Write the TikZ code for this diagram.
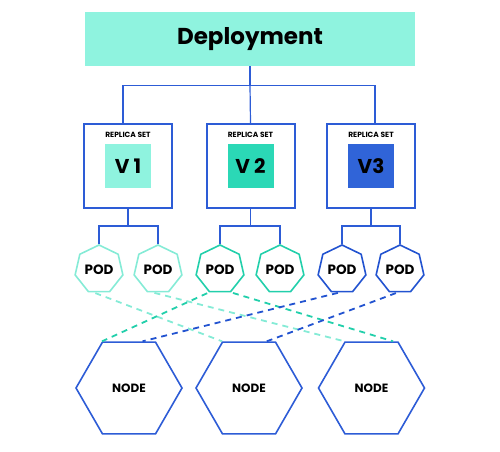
\documentclass[tikz,border=0pt]{standalone}
\usepackage{fontspec}
\setmainfont{Poppins}
\usepackage{xcolor}
\usetikzlibrary{shapes.geometric,calc}

\definecolor{mintlight}{HTML}{8FF3DF}
\definecolor{mintpod}{HTML}{85EBD6}
\definecolor{mintmid}{HTML}{2BD8B6}
\definecolor{mintpodmid}{HTML}{22CFAB}
\definecolor{vblue}{HTML}{3064D8}
\definecolor{lineblue}{HTML}{2D5CD6}
\definecolor{podblue}{HTML}{2253D0}

\begin{document}
\begin{tikzpicture}[x=1pt,y=-1pt,
    tree/.style={draw=lineblue, line width=1.2pt},
    rsbox/.style={draw=lineblue, line width=2pt, minimum width=88pt, minimum height=84pt, inner sep=0pt},
    rslabel/.style={font=\bfseries\fontsize{7.5}{8}\selectfont, inner sep=0pt},
    ver/.style={minimum width=46pt, minimum height=44pt, inner sep=0pt, font=\bfseries\fontsize{20}{22}\selectfont},
    pod/.style={regular polygon, regular polygon sides=7, minimum size=49pt, inner sep=0pt, line width=1.6pt, font=\bfseries\fontsize{13.5}{14}\selectfont},
    knode/.style={draw=lineblue, regular polygon, regular polygon sides=6, minimum size=106pt, inner sep=0pt, line width=1.6pt, font=\bfseries\fontsize{12}{13}\selectfont},
    link/.style={line width=1.8pt, dash pattern=on 6pt off 5pt, shorten <=2pt}]
    \useasboundingbox (0,0) rectangle (500,451);

    \node[fill=mintlight, minimum width=330pt, minimum height=54pt, inner sep=0pt, font=\bfseries\fontsize{23}{26}\selectfont] (dep) at (250,39) {Deployment};

    \node[rsbox] (rs1) at (128,166) {};
    \node[rsbox] (rs2) at (250.5,166) {};
    \node[rsbox] (rs3) at (371,166) {};
    \node[rslabel] at (128,135) {REPLICA SET};
    \node[rslabel] at (250.5,135) {REPLICA SET};
    \node[rslabel] at (371,135) {REPLICA SET};
    \node[ver, fill=mintlight] (v1) at (128,166) {V 1};
    \node[ver, fill=mintmid] (v2) at (250.5,166) {V 2};
    \node[ver, fill=vblue] (v3) at (371,166) {V3};

    \draw[tree] (dep.south) -- ++(0,19) coordinate (split);
    \draw[tree] ([xshift=-5pt]rs1.north) |- (split) -| ([xshift=4pt]rs3.north);
    \draw[tree] (split) -- (rs2.north);

    \node[pod, draw=mintpod] (p1) at (99,269.5) {POD};
    \node[pod, draw=mintpod] (p2) at (158,269.5) {POD};
    \node[pod, draw=mintpodmid] (p3) at (220,269.5) {POD};
    \node[pod, draw=mintpodmid] (p4) at (280,269.5) {POD};
    \node[pod, draw=podblue] (p5) at (342,269.5) {POD};
    \node[pod, draw=podblue] (p6) at (400,269.5) {POD};

    \draw[tree] (rs1.south) -- ++(0,17) coordinate (s1);
    \draw[tree] (p1.corner 1) |- (s1) -| (p2.corner 1);
    \draw[tree] (rs2.south) -- ++(0,17) coordinate (s2);
    \draw[tree] (p3.corner 1) |- (s2) -| (p4.corner 1);
    \draw[tree] (rs3.south) -- ++(0,17) coordinate (s3);
    \draw[tree] (p5.corner 1) |- (s3) -| (p6.corner 1);

    \node[knode] (n1) at (129,388) {NODE};
    \node[knode] (n2) at (249,388) {NODE};
    \node[knode] (n3) at (371.5,388) {NODE};

    \draw[link, draw=mintpod] ($(p1.corner 4)!.25!(p1.corner 5)$) -- (n2.corner 2);
    \draw[link, draw=mintpod] ($(p2.corner 4)!.25!(p2.corner 5)$) -- (n3.corner 2);
    \draw[link, draw=mintpodmid] (p3.corner 4) -- (n1.corner 2);
    \draw[link, draw=mintpodmid] (p3.corner 5) -- ($(n3.corner 1)!.1!(n3.corner 2)$);
    \draw[link, draw=podblue] ($(p5.corner 4)!.4!(p5.corner 5)$) -- ($(n1.corner 2)!.75!(n1.corner 1)$);
    \draw[link, draw=podblue] ($(p6.corner 4)!.4!(p6.corner 5)$) -- ($(n2.corner 2)!.83!(n2.corner 1)$);
\end{tikzpicture}
\end{document}
